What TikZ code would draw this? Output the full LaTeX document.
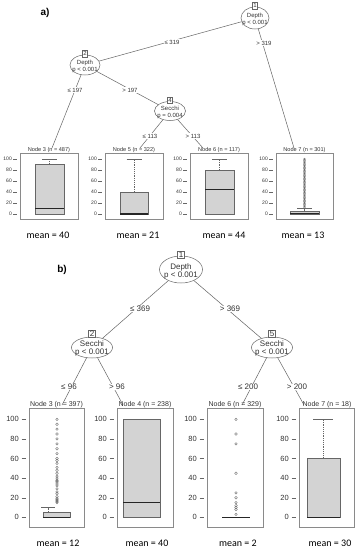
\documentclass[tikz,border=0pt]{standalone}
\usepackage{fontspec}
\setmainfont{Liberation Sans}
\newfontfamily\calibfont{Carlito}
\usetikzlibrary{shapes.geometric}
\definecolor{tx}{HTML}{333333}
\definecolor{ln}{HTML}{666666}
\definecolor{fr}{HTML}{8A8A8A}
\definecolor{bx}{HTML}{D3D3D3}
\newcommand\szNodeA{\fontsize{6}{6.6}\selectfont}
\newcommand\szTitA{\fontsize{5.6}{6}\selectfont}
\newcommand\szAxA{\fontsize{5}{6}\selectfont}
\newcommand\szNodeB{\fontsize{8}{8.4}\selectfont}
\newcommand\szTitB{\fontsize{7}{8}\selectfont}
\newcommand\szAxB{\fontsize{7.5}{8}\selectfont}
\newcommand\szMean{\calibfont\fontsize{10}{12}\selectfont}
\newcommand\axisA[2]{%
  \foreach \v in {0,20,...,100}{
    \draw[ln, line width=0.4pt] (#1-7,214-0.55*\v) -- (#1-3.5,214-0.55*\v);
    \node[anchor=east, inner sep=0, text=tx, font=\szAxA] (#2-\v) at (#1-8,214-0.55*\v) {\v};
  }}
\newcommand\axisB[2]{%
  \foreach \v in {0,20,...,100}{
    \draw[ln, line width=0.4pt] (#1-7.5,517.3-0.98*\v) -- (#1-3,517.3-0.98*\v);
    \node[anchor=east, inner sep=0, text=tx, font=\szAxB] (#2-\v) at (#1-10,517.3-0.98*\v) {\v};
  }}
\begin{document}
\begin{tikzpicture}[x=1pt,y=-1pt,
  ell/.style={ellipse, draw=ln, line width=0.5pt, inner sep=0},
  idbox/.style={draw=ln, fill=white, inner sep=1pt, text=tx, line width=0.5pt},
  ntext/.style={align=center, inner sep=0, text=tx},
  elab/.style={fill=white, inner sep=0.6pt, text=tx},
  edge/.style={draw=ln, line width=0.5pt},
  frame/.style={draw=fr, line width=0.5pt},
  bxs/.style={fill=bx, draw=ln, line width=0.5pt},
  med/.style={draw=black!85, line width=1.3pt},
  whisk/.style={draw=ln, line width=0.45pt, dash pattern=on 1.2pt off 1pt},
  capl/.style={draw=ln, line width=0.5pt},
  outl/.style={circle, draw=ln, line width=0.35pt, inner sep=0, minimum size=2.3pt},
  ttl/.style={inner sep=0, text=tx, anchor=base},
  meanl/.style={font=\szMean, text=black, inner sep=0},
  pl/.style={font=\fontsize{10}{12}\selectfont\bfseries, text=black, inner sep=0}
]
\useasboundingbox (0,0) rectangle (358,550);
\fill[white] (0,0) rectangle (358,550);

% ================= a) =================
\node[pl] (la) at (45,13) {a)};

\node[ell, minimum width=28pt, minimum height=22pt] (n1a) at (255,18) {};
\node[ell, minimum width=30pt, minimum height=20pt] (n2a) at (85,65) {};
\node[ell, minimum width=31pt, minimum height=19pt] (n4a) at (170,111) {};

\coordinate (e3a) at (52,148);
\coordinate (e5a) at (140,148);
\coordinate (e6a) at (203,148);
\coordinate (e7a) at (294,148);

\draw[edge] (n1a) -- (n2a);
\draw[edge] (n1a) -- (e7a);
\draw[edge] (n2a) -- (e3a);
\draw[edge] (n2a) -- (n4a);
\draw[edge] (n4a) -- (e5a);
\draw[edge] (n4a) -- (e6a);

\node[idbox, font=\szNodeA] (id1a) at ([yshift=1pt]n1a.north) {1};
\node[idbox, font=\szNodeA] (id2a) at ([yshift=1pt]n2a.north) {2};
\node[idbox, font=\szNodeA] (id4a) at ([yshift=1pt]n4a.north) {4};
\node[ntext, font=\szNodeA] (t1a) at ([yshift=-1.5pt]n1a.center) {Depth\\p < 0.001};
\node[ntext, font=\szNodeA] (t2a) at ([yshift=-1.5pt]n2a.center) {Depth\\p < 0.001};
\node[ntext, font=\szNodeA] (t4a) at ([yshift=-1.5pt]n4a.center) {Secchi\\p = 0.004};

\node[elab, font=\szNodeA] (l1a) at (172,42) {≤ 319};
\node[elab, font=\szNodeA] (l2a) at (264,43) {> 319};
\node[elab, font=\szNodeA] (l3a) at (75,90) {≤ 197};
\node[elab, font=\szNodeA] (l4a) at (130,90) {> 197};
\node[elab, font=\szNodeA] (l5a) at (150,136) {≤ 113};
\node[elab, font=\szNodeA] (l6a) at (193,136) {> 113};

% panel Node 3
\draw[frame] (20,153) rectangle (78,219);
\node[ttl, font=\szTitA] (p3a) at (49,151.5) {Node 3 (n = 487)};
\axisA{20}{y3a}
\draw[whisk] (49.5,164.5) -- (49.5,159);
\draw[capl] (42,159) -- (57,159);
\filldraw[bxs] (35,164.5) rectangle (64,214);
\draw[med] (35,208.5) -- (64,208.5);

% panel Node 5
\draw[frame] (105,153) rectangle (163,219);
\node[ttl, font=\szTitA] (p5a) at (134,151.5) {Node 5 (n = 322)};
\axisA{105}{y5a}
\draw[whisk] (134,192) -- (134,159);
\draw[capl] (126.5,159) -- (141.5,159);
\filldraw[bxs] (120,192) rectangle (148,214);
\draw[med] (120,214) -- (148,214);

% panel Node 6
\draw[frame] (190,153) rectangle (248,219);
\node[ttl, font=\szTitA] (p6a) at (219,151.5) {Node 6 (n = 117)};
\axisA{190}{y6a}
\draw[whisk] (219.5,170) -- (219.5,159);
\draw[capl] (212,159) -- (227,159);
\filldraw[bxs] (205,170) rectangle (234,214);
\draw[med] (205,189.25) -- (234,189.25);

% panel Node 7
\draw[frame] (276,153) rectangle (333,219);
\node[ttl, font=\szTitA] (p7a) at (304.5,151.5) {Node 7 (n = 301)};
\axisA{276}{y7a}
\draw[whisk] (304.5,211.25) -- (304.5,208.5);
\draw[capl] (297,208.5) -- (312,208.5);
\foreach \v [count=\i] in {12.5,15,...,100}{
  \node[outl, minimum size=2pt] (o7a-\i) at (304.5,214-0.55*\v) {};
}
\filldraw[bxs] (290,211.25) rectangle (319,214);
\draw[med] (290,213.4) -- (319,213.4);

\node[meanl] (m3a) at (48,235) {mean = 40};
\node[meanl] (m5a) at (138,235) {mean = 21};
\node[meanl] (m6a) at (224,235) {mean = 44};
\node[meanl] (m7a) at (303,235) {mean = 13};

% ================= b) =================
\node[pl] (lb) at (62,270) {b)};

\node[ell, minimum width=43pt, minimum height=27pt] (n1b) at (181,269.5) {};
\node[ell, minimum width=41pt, minimum height=21pt] (n2b) at (92,347.5) {};
\node[ell, minimum width=41pt, minimum height=21pt] (n5b) at (272,347.5) {};

\coordinate (e3b) at (62,405);
\coordinate (e4b) at (123,405);
\coordinate (e6b) at (242,405);
\coordinate (e7b) at (304,405);

\draw[edge] (n1b) -- (n2b);
\draw[edge] (n1b) -- (n5b);
\draw[edge] (n2b) -- (e3b);
\draw[edge] (n2b) -- (e4b);
\draw[edge] (n5b) -- (e6b);
\draw[edge] (n5b) -- (e7b);

\node[idbox, font=\szNodeB, inner sep=1.2pt] (id1b) at ([yshift=1pt]n1b.north) {1};
\node[idbox, font=\szNodeB, inner sep=1.2pt] (id2b) at ([yshift=3pt]n2b.north) {2};
\node[idbox, font=\szNodeB, inner sep=1.2pt] (id5b) at ([yshift=3pt]n5b.north) {5};
\node[ntext, font=\szNodeB] (t1b) at ([yshift=-2pt]n1b.center) {Depth\\p < 0.001};
\node[ntext, font=\szNodeB] (t2b) at ([yshift=-1pt]n2b.center) {Secchi\\p < 0.001};
\node[ntext, font=\szNodeB] (t5b) at ([yshift=-1pt]n5b.center) {Secchi\\p < 0.001};

\node[elab, font=\szNodeB] (l1b) at (140,309) {≤ 369};
\node[elab, font=\szNodeB] (l2b) at (230,309) {> 369};
\node[elab, font=\szNodeB] (l3b) at (69,387) {≤ 96};
\node[elab, font=\szNodeB] (l4b) at (117,387) {> 96};
\node[elab, font=\szNodeB] (l5b) at (248,387) {≤ 200};
\node[elab, font=\szNodeB] (l6b) at (297,387) {> 200};

% panel Node 3
\draw[frame] (29,408) rectangle (84,527);
\node[ttl, font=\szTitB] (p3b) at (56.5,406.5) {Node 3 (n = 397)};
\axisB{29}{y3b}
\draw[whisk] (48,512.4) -- (48,507.5);
\draw[capl] (41,507.5) -- (55,507.5);
\foreach \v [count=\i] in {15,16,17,18,19,21,24,26,29,32,34,36,37,38,40,42,45,48,51,55,58,60,65,70,75,80,85,90,95,100}{
  \node[outl, minimum size=2.6pt] (o3b-\i) at (57,517.3-0.98*\v) {};
}
\filldraw[bxs] (43,512.4) rectangle (70,517.3);
\draw[med] (43,517.3) -- (70,517.3);

% panel Node 4
\draw[frame] (117,408) rectangle (173,527);
\node[ttl, font=\szTitB] (p4b) at (145,406.5) {Node 4 (n = 238)};
\axisB{117}{y4b}
\filldraw[bxs] (123,419.3) rectangle (160,517.3);
\draw[med] (123,502.6) -- (160,502.6);

% panel Node 6
\draw[frame] (207,408) rectangle (263,527);
\node[ttl, font=\szTitB] (p6b) at (235,406.5) {Node 6 (n = 329)};
\axisB{207}{y6b}
\foreach \v [count=\i] in {3,8,10,12,15,20,25,45,75,85,100}{
  \node[outl, minimum size=2.6pt] (o6b-\i) at (236,517.3-0.98*\v) {};
}
\draw[med] (222,517.3) -- (250,517.3);

% panel Node 7
\draw[frame] (299,408) rectangle (354,527);
\node[ttl, font=\szTitB] (p7b) at (327,406.5) {Node 7 (n = 18)};
\axisB{299}{y7b}
\draw[whisk] (323.5,458.5) -- (323.5,419.3);
\draw[capl] (313,419.3) -- (333,419.3);
\filldraw[bxs] (307,458.5) rectangle (340,517.3);
\draw[med] (307,517.3) -- (340,517.3);

\node[meanl] (m3b) at (58,543) {mean = 12};
\node[meanl] (m4b) at (147,543) {mean = 40};
\node[meanl] (m6b) at (238,543) {mean = 2};
\node[meanl] (m7b) at (330,543) {mean = 30};
\end{tikzpicture}
\end{document}
